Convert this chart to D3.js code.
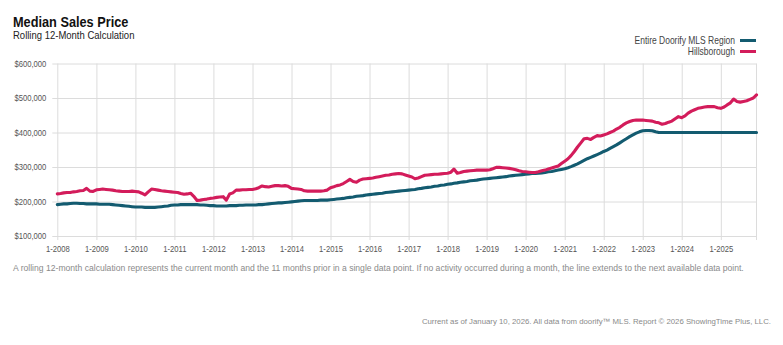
<!DOCTYPE html>
<html>
<head>
<meta charset="utf-8">
<script src="https://cdn.jsdelivr.net/npm/d3@7"></script>
<style>
  html, body { margin: 0; padding: 0; background: #fff; }
  svg { display: block; }
  text { font-family: "Liberation Sans", Arial, Helvetica, sans-serif; }
</style>
</head>
<body>
<svg id="chart" width="783" height="345"></svg>
<script>
// Monthly rolling 12-month median sale price, in thousands of dollars, Jan 2008 – Dec 2025
const startYear = 2008;
const endYear = 2025;

const regionValues = [
  191,192,193,193,194,195,195,194,194,193,193,193, // 2008
  193,192,192,192,192,191,190,189,188,187,186,185, // 2009
  184,184,184,183,183,183,183,184,185,186,187,189, // 2010
  190,190,191,191,191,191,191,191,190,190,189,188, // 2011
  188,187,187,187,187,188,188,188,189,189,190,190, // 2012
  190,190,191,191,192,193,194,195,196,196,197,198, // 2013
  199,200,201,202,203,203,203,203,203,204,204,204, // 2014
  205,206,207,208,209,211,212,213,215,216,217,219, // 2015
  220,221,222,223,224,226,227,228,229,230,231,232, // 2016
  233,234,235,237,238,240,241,242,244,245,247,248, // 2017
  250,251,253,254,256,257,258,260,261,262,264,265, // 2018
  266,267,268,269,270,271,272,274,275,276,277,278, // 2019
  279,280,281,281,282,283,284,286,287,289,291,293, // 2020
  295,298,301,305,309,314,319,324,328,332,336,340, // 2021
  345,349,354,359,364,370,376,382,388,393,398,402, // 2022
  405,406,406,405,402,400,400,400,400,400,400,400, // 2023
  400,400,400,400,400,400,400,400,400,400,400,400, // 2024
  400,400,400,400,400,400,400,400,400,400,400,400  // 2025
];

const hillsboroughValues = [
  222,223,225,226,226,228,229,231,232,238,230,229, // 2008
  234,235,236,235,234,233,231,230,229,229,229,230, // 2009
  229,228,224,219,228,236,235,233,231,230,229,228, // 2010
  227,226,223,221,222,224,215,203,204,206,207,209, // 2011
  210,212,213,214,204,222,225,233,233,234,234,235, // 2012
  235,237,240,245,243,242,244,246,246,245,246,244, // 2013
  238,237,236,235,231,230,230,230,230,230,231,233, // 2014
  240,243,246,248,252,258,264,258,256,262,265,266, // 2015
  267,268,270,272,274,276,277,279,280,281,280,277, // 2016
  274,271,266,268,272,276,277,278,279,279,280,281, // 2017
  282,285,294,282,284,287,288,289,290,291,291,291, // 2018
  291,292,295,299,299,298,297,296,294,292,289,287, // 2019
  286,285,284,284,286,289,291,294,297,300,303,310, // 2020
  317,324,333,345,358,370,382,383,380,386,391,390, // 2021
  393,396,400,404,410,415,422,428,432,435,436,436, // 2022
  436,435,434,433,430,428,424,426,430,433,440,446, // 2023
  443,448,456,462,466,470,472,474,475,475,475,472, // 2024
  470,474,480,486,497,490,488,490,492,496,500,509  // 2025
];

const seriesNames = ["Entire Doorify MLS Region", "Hillsborough"];
const seriesColors = ["#135b70", "#d31c5b"];
const yTickValues = [100000, 200000, 300000, 400000, 500000, 600000];

const months = d3.timeMonth.range(new Date(startYear, 0, 1), new Date(endYear + 1, 0, 1));
const yearTicks = d3.timeYear.range(new Date(startYear, 0, 1), new Date(endYear + 1, 0, 1));

// condensed look: horizontally squeezed Helvetica-metric text
const SQUEEZE = 0.85;

const svg = d3.select("#chart");

function label(parent, x, y, str, opts = {}) {
  return parent.append("text")
    .attr("transform", `translate(${x},${y}) scale(${opts.sx ?? SQUEEZE},1)`)
    .attr("text-anchor", opts.anchor || "start")
    .attr("font-size", opts.size || "10px")
    .attr("font-weight", opts.weight || "normal")
    .attr("fill", opts.fill || "#444")
    .text(str);
}

const plot = { left: 57.3, right: 756.5, top: 63.5, bottom: 236 };

const x = d3.scaleTime()
  .domain([months[0], months[months.length - 1]])
  .range([plot.left, plot.right]);

const y = d3.scaleLinear()
  .domain([100000, 600000])
  .range([plot.bottom, plot.top]);

// horizontal gridlines with y labels
const yAxis = d3.axisLeft(y)
  .tickValues(yTickValues)
  .tickSize(-(plot.right - plot.left) - 5)
  .tickPadding(7)
  .tickFormat(d => "$" + d3.format(",")(d));

const gy = svg.append("g")
  .attr("transform", `translate(${plot.left - 5},0)`)
  .call(yAxis);
gy.select(".domain").remove();
gy.selectAll(".tick line").attr("stroke", "#dcdcdc").attr("stroke-width", 1);
gy.selectAll(".tick text")
  .attr("fill", "#555")
  .attr("font-size", "9px")
  .attr("transform", `scale(${SQUEEZE},1)`);

// vertical gridlines with x labels
const xAxis = d3.axisBottom(x)
  .tickValues(yearTicks)
  .tickSize(-(plot.bottom - plot.top) - 4)
  .tickPadding(8)
  .tickFormat(d3.timeFormat("1-%Y"));

const gx = svg.append("g")
  .attr("transform", `translate(0,${plot.bottom + 4})`)
  .call(xAxis);
gx.select(".domain").remove();
gx.selectAll(".tick line").attr("stroke", "#dcdcdc").attr("stroke-width", 1);
gx.selectAll(".tick text")
  .attr("fill", "#555")
  .attr("font-size", "9px")
  .attr("dy", "0.5em")
  .attr("transform", `scale(${SQUEEZE},1)`);

// right edge of the plot
svg.append("line")
  .attr("x1", plot.right).attr("x2", plot.right)
  .attr("y1", plot.top).attr("y2", plot.bottom + 4)
  .attr("stroke", "#dcdcdc");

// the two series
const line = d3.line()
  .x((d, i) => x(months[i]))
  .y(d => y(d * 1000))
  .curve(d3.curveLinear);

[regionValues, hillsboroughValues].forEach((vals, k) => {
  svg.append("path")
    .datum(vals)
    .attr("fill", "none")
    .attr("stroke", seriesColors[k])
    .attr("stroke-width", 3.1)
    .attr("stroke-linejoin", "round")
    .attr("stroke-linecap", "round")
    .attr("d", line);
});

// title block
label(svg, 13, 26.5, "Median Sales Price", { size: "15px", weight: "bold", fill: "#111" });
label(svg, 13, 39, "Rolling 12-Month Calculation", { size: "10px", fill: "#222", sx: 0.95 });

// legend
seriesNames.forEach((name, k) => {
  const cy = 40.5 + k * 11;
  label(svg, 735, cy + 3.5, name, { anchor: "end", size: "10px", fill: "#444" });
  svg.append("line")
    .attr("x1", 740).attr("x2", 756)
    .attr("y1", cy).attr("y2", cy)
    .attr("stroke", seriesColors[k])
    .attr("stroke-width", 3);
});

// notes
label(svg, 13, 271,
  "A rolling 12-month calculation represents the current month and the 11 months prior in a single data point. If no activity occurred during a month, the line extends to the next available data point.",
  { size: "8.6px", fill: "#8a8a8a", sx: 1 });

label(svg, 771, 324,
  "Current as of January 10, 2026. All data from doorify\u2122 MLS. Report \u00a9 2026 ShowingTime Plus, LLC.",
  { anchor: "end", size: "7.8px", fill: "#8a8a8a", sx: 1 });
</script>
</body>
</html>
